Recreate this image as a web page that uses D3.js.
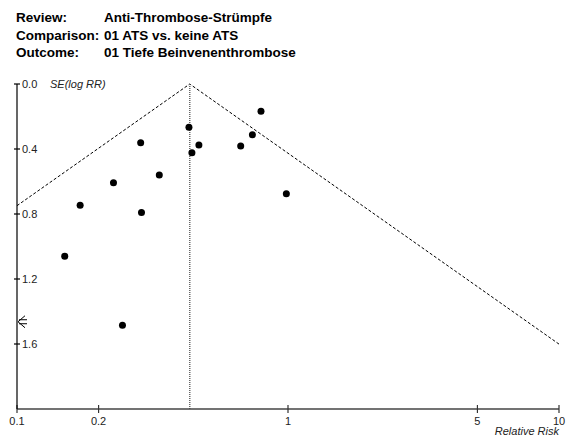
<!DOCTYPE html>
<html><head><meta charset="utf-8">
<script src="https://cdn.jsdelivr.net/npm/d3@7"></script>
<style>body{margin:0;background:#fff}svg{display:block;font-family:Arial,"Liberation Sans",sans-serif}</style>
</head><body><svg id="c" width="566" height="438"></svg>
<script>
const headerLabels = ["Review:", "Comparison:", "Outcome:"];
const headerValues = ["Anti-Thrombose-Strümpfe", "01 ATS vs. keine ATS", "01 Tiefe Beinvenenthrombose"];
const studyRR = [0.795, 0.431, 0.739, 0.286, 0.469, 0.669, 0.442, 0.335, 0.227, 0.986, 0.171, 0.288, 0.150, 0.245];
const studySE = [0.168, 0.266, 0.312, 0.361, 0.375, 0.382, 0.423, 0.560, 0.607, 0.675, 0.746, 0.790, 1.060, 1.485];
const offScaleSE = [1.463];
const pooledRR = 0.434;
const xTicks = [0.1, 0.2, 1, 5, 10];
const xTickLabels = ["0.1", "0.2", "1", "5", "10"];
const yTicks = [0.0, 0.4, 0.8, 1.2, 1.6];
const yTickLabels = ["0.0", "0.4", "0.8", "1.2", "1.6"];

const svg = d3.select("#c");
const x = d3.scaleLog().domain([0.1, 10]).range([17, 559]);
const y = d3.scaleLinear().domain([0, 2]).range([84, 409]);

// header
const hdr = svg.append("g").attr("font-weight", "bold").attr("font-size", 13.5).attr("fill", "#000");
headerLabels.forEach((t, i) => {
  hdr.append("text").attr("x", 16).attr("y", 22 + i * 17.5).text(t);
  hdr.append("text").attr("x", 104).attr("y", 22 + i * 17.5).text(headerValues[i]);
});

// funnel lines
const z = 1.96;
const seLeft = Math.log(pooledRR / 0.1) / z;
const seRight = Math.log(10 / pooledRR) / z;
const funnel = [[0.1, seLeft], [pooledRR, 0], [10, seRight]];
svg.append("path")
  .attr("d", d3.line().x(d => x(d[0])).y(d => y(d[1]))(funnel))
  .attr("fill", "none").attr("stroke", "#000").attr("stroke-width", 1)
  .attr("stroke-dasharray", "3,2");

// pooled vertical line
svg.append("line")
  .attr("x1", x(pooledRR)).attr("x2", x(pooledRR))
  .attr("y1", y(0)).attr("y2", y(2))
  .attr("stroke", "#666").attr("stroke-width", 1.5).attr("stroke-dasharray", "1,1");

// x axis
const xAxis = svg.append("g");
xAxis.append("line").attr("x1", x(0.1)).attr("x2", x(10)).attr("y1", y(2)).attr("y2", y(2))
  .attr("stroke", "#444").attr("stroke-width", 1.3);
xAxis.selectAll("line.t").data(xTicks).enter().append("line").attr("class", "t")
  .attr("x1", d => x(d)).attr("x2", d => x(d)).attr("y1", y(2) - 4).attr("y2", y(2) + 4)
  .attr("stroke", "#333").attr("stroke-width", 1.2);
xAxis.selectAll("text").data(xTicks).enter().append("text")
  .attr("x", d => x(d)).attr("y", 425).attr("text-anchor", "middle")
  .attr("font-size", 11).attr("fill", "#222").text((d, i) => xTickLabels[i]);
svg.append("text").attr("x", 559).attr("y", 435).attr("text-anchor", "end")
  .attr("font-size", 11).attr("font-style", "italic").attr("fill", "#222").text("Relative Risk");

// y axis
const yAxis = svg.append("g");
yAxis.append("line").attr("x1", x(0.1)).attr("x2", x(0.1)).attr("y1", y(0)).attr("y2", y(2))
  .attr("stroke", "#000").attr("stroke-width", 1.2);
yAxis.selectAll("line.t").data(yTicks).enter().append("line").attr("class", "t")
  .attr("x1", x(0.1) - 3).attr("x2", x(0.1) + 3).attr("y1", d => y(d)).attr("y2", d => y(d))
  .attr("stroke", "#000").attr("stroke-width", 1.2);
yAxis.selectAll("text").data(yTicks).enter().append("text")
  .attr("x", 22).attr("y", d => y(d) + 4).attr("font-size", 11).attr("fill", "#222")
  .text((d, i) => yTickLabels[i]);
svg.append("text").attr("x", 50).attr("y", y(0) + 4).attr("font-size", 11)
  .attr("font-style", "italic").attr("fill", "#222").text("SE(log RR)");

// points
svg.selectAll("circle").data(studyRR).enter().append("circle")
  .attr("cx", d => x(d)).attr("cy", (d, i) => y(studySE[i])).attr("r", 3.5).attr("fill", "#000");

// off-scale arrows
offScaleSE.forEach(s => {
  const cy = y(s), cx = x(0.1) + 1;
  svg.append("path")
    .attr("d", `M${cx + 7},${cy - 6}L${cx},${cy}L${cx + 7},${cy + 6}M${cx + 1},${cy - 2}H${cx + 9}M${cx + 1},${cy + 2}H${cx + 9}`)
    .attr("fill", "none").attr("stroke", "#000").attr("stroke-width", 1);
});
</script></body></html>
